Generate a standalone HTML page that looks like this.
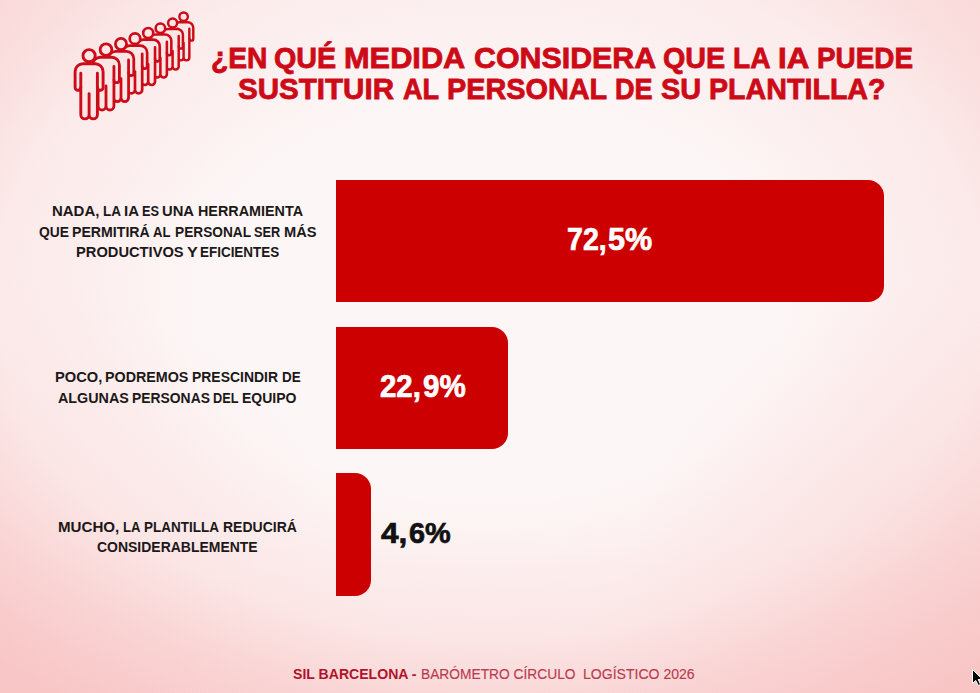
<!DOCTYPE html>
<html><head><meta charset="utf-8">
<style>
html,body{margin:0;padding:0;}
body{width:980px;height:693px;overflow:hidden;position:relative;
  font-family:"Liberation Sans", sans-serif;
  background:
    linear-gradient(to bottom, rgba(253,246,246,0.25) 0px, rgba(253,246,246,0) 200px),
    radial-gradient(ellipse 380px 420px at 980px 690px, rgba(248,196,196,0.38), rgba(248,196,196,0) 100%),
    radial-gradient(ellipse 380px 420px at 0px 690px, rgba(248,196,196,0.22), rgba(248,196,196,0) 100%),
    linear-gradient(to bottom, rgba(248,196,196,0) 540px, rgba(248,196,196,0.16) 693px),
    radial-gradient(ellipse 660px 450px at 490px 300px, rgba(248,196,196,0) 45%, rgba(248,196,196,0.16) 62%, rgba(248,196,196,0.25) 75%, rgba(248,196,196,0.4) 82%, rgba(248,196,196,0.62) 92%, rgba(248,196,196,0.95) 110%),
    #FDF6F6;
}
.t{position:absolute;white-space:nowrap;transform-origin:0 0;line-height:1;}
.title{color:#CD0A16;font-weight:bold;font-size:30px;-webkit-text-stroke:0.8px #CD0A16;}
.lab{color:#1C1818;font-weight:bold;font-size:14.5px;}
.bar{position:absolute;left:336px;background:#CC0000;border-radius:0 16px 16px 0;}
.pct{font-weight:bold;font-size:30px;}
.w{color:#fff;-webkit-text-stroke:0.7px #fff;} .k{color:#111;-webkit-text-stroke:0.7px #111;}
.foot{font-size:15.5px;}
.fb{color:#B3122B;font-weight:bold;} .fr{color:#BA3A4E;-webkit-text-stroke:0.15px #BA3A4E;}
svg{position:absolute;left:0;top:0;}
</style></head>
<body>
<svg width="220" height="130" viewBox="0 0 220 130" fill="#FCE6E6" stroke="#CC0C18" stroke-width="2.9" stroke-linejoin="round" stroke-linecap="round">
<g transform="translate(183.6 15.8) scale(0.692)" stroke-width="3.49"><circle cx="0" cy="1.3" r="6.1"/><path d="M -8.3 33 A 2.85 2.85 0 0 1 -14 33 L -14 17.3 A 8 8 0 0 1 -6 9.3 L 6 9.3 A 8 8 0 0 1 14 17.3 L 14 33 A 2.85 2.85 0 0 1 8.3 33 L 8.3 60.3 A 4.15 4.15 0 0 1 0 60.3 L 0 39.2 L 0 60.3 A 4.15 4.15 0 0 1 -8.3 60.3 Z"/><path d="M -8.3 18.8 L -8.3 33 M 8.3 18.8 L 8.3 33" fill="none"/></g>
<g transform="translate(172.6 22.1) scale(0.736)" stroke-width="3.38"><circle cx="0" cy="1.3" r="6.1"/><path d="M -8.3 33 A 2.85 2.85 0 0 1 -14 33 L -14 17.3 A 8 8 0 0 1 -6 9.3 L 6 9.3 A 8 8 0 0 1 14 17.3 L 14 33 A 2.85 2.85 0 0 1 8.3 33 L 8.3 60.3 A 4.15 4.15 0 0 1 0 60.3 L 0 39.2 L 0 60.3 A 4.15 4.15 0 0 1 -8.3 60.3 Z"/><path d="M -8.3 18.8 L -8.3 33 M 8.3 18.8 L 8.3 33" fill="none"/></g>
<g transform="translate(160.4 27.2) scale(0.780)" stroke-width="3.28"><circle cx="0" cy="1.3" r="6.1"/><path d="M -8.3 33 A 2.85 2.85 0 0 1 -14 33 L -14 17.3 A 8 8 0 0 1 -6 9.3 L 6 9.3 A 8 8 0 0 1 14 17.3 L 14 33 A 2.85 2.85 0 0 1 8.3 33 L 8.3 60.3 A 4.15 4.15 0 0 1 0 60.3 L 0 39.2 L 0 60.3 A 4.15 4.15 0 0 1 -8.3 60.3 Z"/><path d="M -8.3 18.8 L -8.3 33 M 8.3 18.8 L 8.3 33" fill="none"/></g>
<g transform="translate(148.2 31.9) scale(0.824)" stroke-width="3.19"><circle cx="0" cy="1.3" r="6.1"/><path d="M -8.3 33 A 2.85 2.85 0 0 1 -14 33 L -14 17.3 A 8 8 0 0 1 -6 9.3 L 6 9.3 A 8 8 0 0 1 14 17.3 L 14 33 A 2.85 2.85 0 0 1 8.3 33 L 8.3 60.3 A 4.15 4.15 0 0 1 0 60.3 L 0 39.2 L 0 60.3 A 4.15 4.15 0 0 1 -8.3 60.3 Z"/><path d="M -8.3 18.8 L -8.3 33 M 8.3 18.8 L 8.3 33" fill="none"/></g>
<g transform="translate(135 37.5) scale(0.868)" stroke-width="3.11"><circle cx="0" cy="1.3" r="6.1"/><path d="M -8.3 33 A 2.85 2.85 0 0 1 -14 33 L -14 17.3 A 8 8 0 0 1 -6 9.3 L 6 9.3 A 8 8 0 0 1 14 17.3 L 14 33 A 2.85 2.85 0 0 1 8.3 33 L 8.3 60.3 A 4.15 4.15 0 0 1 0 60.3 L 0 39.2 L 0 60.3 A 4.15 4.15 0 0 1 -8.3 60.3 Z"/><path d="M -8.3 18.8 L -8.3 33 M 8.3 18.8 L 8.3 33" fill="none"/></g>
<g transform="translate(121 42.8) scale(0.912)" stroke-width="3.04"><circle cx="0" cy="1.3" r="6.1"/><path d="M -8.3 33 A 2.85 2.85 0 0 1 -14 33 L -14 17.3 A 8 8 0 0 1 -6 9.3 L 6 9.3 A 8 8 0 0 1 14 17.3 L 14 33 A 2.85 2.85 0 0 1 8.3 33 L 8.3 60.3 A 4.15 4.15 0 0 1 0 60.3 L 0 39.2 L 0 60.3 A 4.15 4.15 0 0 1 -8.3 60.3 Z"/><path d="M -8.3 18.8 L -8.3 33 M 8.3 18.8 L 8.3 33" fill="none"/></g>
<g transform="translate(106 48.4) scale(0.956)" stroke-width="2.97"><circle cx="0" cy="1.3" r="6.1"/><path d="M -8.3 33 A 2.85 2.85 0 0 1 -14 33 L -14 17.3 A 8 8 0 0 1 -6 9.3 L 6 9.3 A 8 8 0 0 1 14 17.3 L 14 33 A 2.85 2.85 0 0 1 8.3 33 L 8.3 60.3 A 4.15 4.15 0 0 1 0 60.3 L 0 39.2 L 0 60.3 A 4.15 4.15 0 0 1 -8.3 60.3 Z"/><path d="M -8.3 18.8 L -8.3 33 M 8.3 18.8 L 8.3 33" fill="none"/></g>
<g transform="translate(89.1 54.4) scale(1.000)" stroke-width="2.90"><circle cx="0" cy="1.3" r="6.1"/><path d="M -8.3 33 A 2.85 2.85 0 0 1 -14 33 L -14 17.3 A 8 8 0 0 1 -6 9.3 L 6 9.3 A 8 8 0 0 1 14 17.3 L 14 33 A 2.85 2.85 0 0 1 8.3 33 L 8.3 60.3 A 4.15 4.15 0 0 1 0 60.3 L 0 39.2 L 0 60.3 A 4.15 4.15 0 0 1 -8.3 60.3 Z"/><path d="M -8.3 18.8 L -8.3 33 M 8.3 18.8 L 8.3 33" fill="none"/></g>
</svg>
<div class="bar" style="top:180px;width:548px;height:122px;"></div>
<div class="bar" style="top:327px;width:172px;height:122px;"></div>
<div class="bar" style="top:473px;width:35px;height:123px;"></div>
<div class="t title" style="left:210.7px;top:43.0px;transform:scaleX(0.9404);">¿EN</div>
<div class="t title" style="left:274.4px;top:43.0px;transform:scaleX(0.9571);">QUÉ</div>
<div class="t title" style="left:344.3px;top:43.0px;transform:scaleX(1.025);">MEDIDA</div>
<div class="t title" style="left:474.0px;top:43.0px;transform:scaleX(1.0118);">CONSIDERA</div>
<div class="t title" style="left:663.3px;top:43.0px;transform:scaleX(0.9556);">QUE</div>
<div class="t title" style="left:732.8px;top:43.0px;transform:scaleX(0.9378);">LA</div>
<div class="t title" style="left:777.5px;top:43.0px;transform:scaleX(1.0407);">IA</div>
<div class="t title" style="left:816.5px;top:43.0px;transform:scaleX(0.9287);">PUEDE</div>
<div class="t title" style="left:238.2px;top:74.0px;transform:scaleX(0.9854);">SUSTITUIR</div>
<div class="t title" style="left:402.7px;top:74.0px;transform:scaleX(0.9026);">AL</div>
<div class="t title" style="left:447.1px;top:74.0px;transform:scaleX(0.961);">PERSONAL</div>
<div class="t title" style="left:615.0px;top:74.0px;transform:scaleX(0.9026);">DE</div>
<div class="t title" style="left:661.2px;top:74.0px;transform:scaleX(0.9641);">SU</div>
<div class="t title" style="left:708.8px;top:74.0px;transform:scaleX(0.9544);">PLANTILLA?</div>
<div class="t lab" style="left:52.4px;top:204.1px;transform:scaleX(1.0318);">NADA,</div>
<div class="t lab" style="left:102.5px;top:204.1px;transform:scaleX(0.9333);">LA</div>
<div class="t lab" style="left:123.8px;top:204.1px;transform:scaleX(1.0308);">IA</div>
<div class="t lab" style="left:142.1px;top:204.1px;transform:scaleX(0.88);">ES</div>
<div class="t lab" style="left:162.2px;top:204.1px;transform:scaleX(1.02);">UNA</div>
<div class="t lab" style="left:198.4px;top:204.1px;transform:scaleX(0.9904);">HERRAMIENTA</div>
<div class="t lab" style="left:38.6px;top:224.5px;transform:scaleX(0.9533);">QUE</div>
<div class="t lab" style="left:71.8px;top:224.5px;transform:scaleX(0.9756);">PERMITIRÁ</div>
<div class="t lab" style="left:153.1px;top:224.5px;transform:scaleX(0.9056);">AL</div>
<div class="t lab" style="left:174.5px;top:224.5px;transform:scaleX(0.9443);">PERSONAL</div>
<div class="t lab" style="left:253.7px;top:224.5px;transform:scaleX(0.88);">SER</div>
<div class="t lab" style="left:283.7px;top:224.5px;transform:scaleX(1.0097);">MÁS</div>
<div class="t lab" style="left:75.8px;top:245.0px;transform:scaleX(1.0124);">PRODUCTIVOS</div>
<div class="t lab" style="left:186.7px;top:245.0px;transform:scaleX(1.12);">Y</div>
<div class="t lab" style="left:200.0px;top:245.0px;transform:scaleX(0.9274);">EFICIENTES</div>
<div class="t lab" style="left:54.5px;top:370.0px;transform:scaleX(1.0111);">POCO,</div>
<div class="t lab" style="left:105.1px;top:370.0px;transform:scaleX(0.9855);">PODREMOS</div>
<div class="t lab" style="left:192.0px;top:370.0px;transform:scaleX(0.9614);">PRESCINDIR</div>
<div class="t lab" style="left:281.8px;top:370.0px;transform:scaleX(0.9263);">DE</div>
<div class="t lab" style="left:58.0px;top:390.7px;transform:scaleX(0.9871);">ALGUNAS</div>
<div class="t lab" style="left:131.7px;top:390.7px;transform:scaleX(0.9575);">PERSONAS</div>
<div class="t lab" style="left:213.4px;top:390.7px;transform:scaleX(0.88);">DEL</div>
<div class="t lab" style="left:242.4px;top:390.7px;transform:scaleX(0.9655);">EQUIPO</div>
<div class="t lab" style="left:57.5px;top:519.5px;transform:scaleX(1.0421);">MUCHO,</div>
<div class="t lab" style="left:122.6px;top:519.5px;transform:scaleX(0.9056);">LA</div>
<div class="t lab" style="left:144.2px;top:519.5px;transform:scaleX(0.9304);">PLANTILLA</div>
<div class="t lab" style="left:223.2px;top:519.5px;transform:scaleX(0.9653);">REDUCIRÁ</div>
<div class="t lab" style="left:97.2px;top:539.7px;transform:scaleX(0.9636);">CONSIDERABLEMENTE</div>
<div class="t pct w" style="left:567.3px;top:224.0px;transform:scaleX(0.9073);font-size:31.5px;">72,</div>
<div class="t pct w" style="left:608.1px;top:224.0px;transform:scaleX(0.9705);font-size:31.5px;">5%</div>
<div class="t pct w" style="left:379.7px;top:370.9px;transform:scaleX(0.9341);font-size:31.5px;">22,</div>
<div class="t pct w" style="left:422.6px;top:370.9px;transform:scaleX(0.9386);font-size:31.5px;">9%</div>
<div class="t pct k" style="left:381.0px;top:518.0px;transform:scaleX(1.0542);font-size:30px;">4,</div>
<div class="t pct k" style="left:409.4px;top:518.0px;transform:scaleX(0.9619);font-size:30px;">6%</div>
<div class="t foot fb" style="left:292.5px;top:666.2px;transform:scaleX(0.9081);">SIL BARCELONA -</div>
<div class="t foot fr" style="left:420.5px;top:666.2px;transform:scaleX(0.8884);">BARÓMETRO CÍRCULO</div>
<div class="t foot fr" style="left:582.5px;top:666.2px;transform:scaleX(0.9066);">LOGÍSTICO 2026</div>
<svg width="12" height="18" viewBox="0 0 12 18" style="left:971px;top:668px;"><path d="M1.5 1.5 L1.5 15.5 L4.8 12.5 L7.3 17.5 L9.6 16.5 L7.2 11.5 L11.5 11.5 Z" fill="#000" stroke="#fff" stroke-width="1"/></svg>
</body></html>
